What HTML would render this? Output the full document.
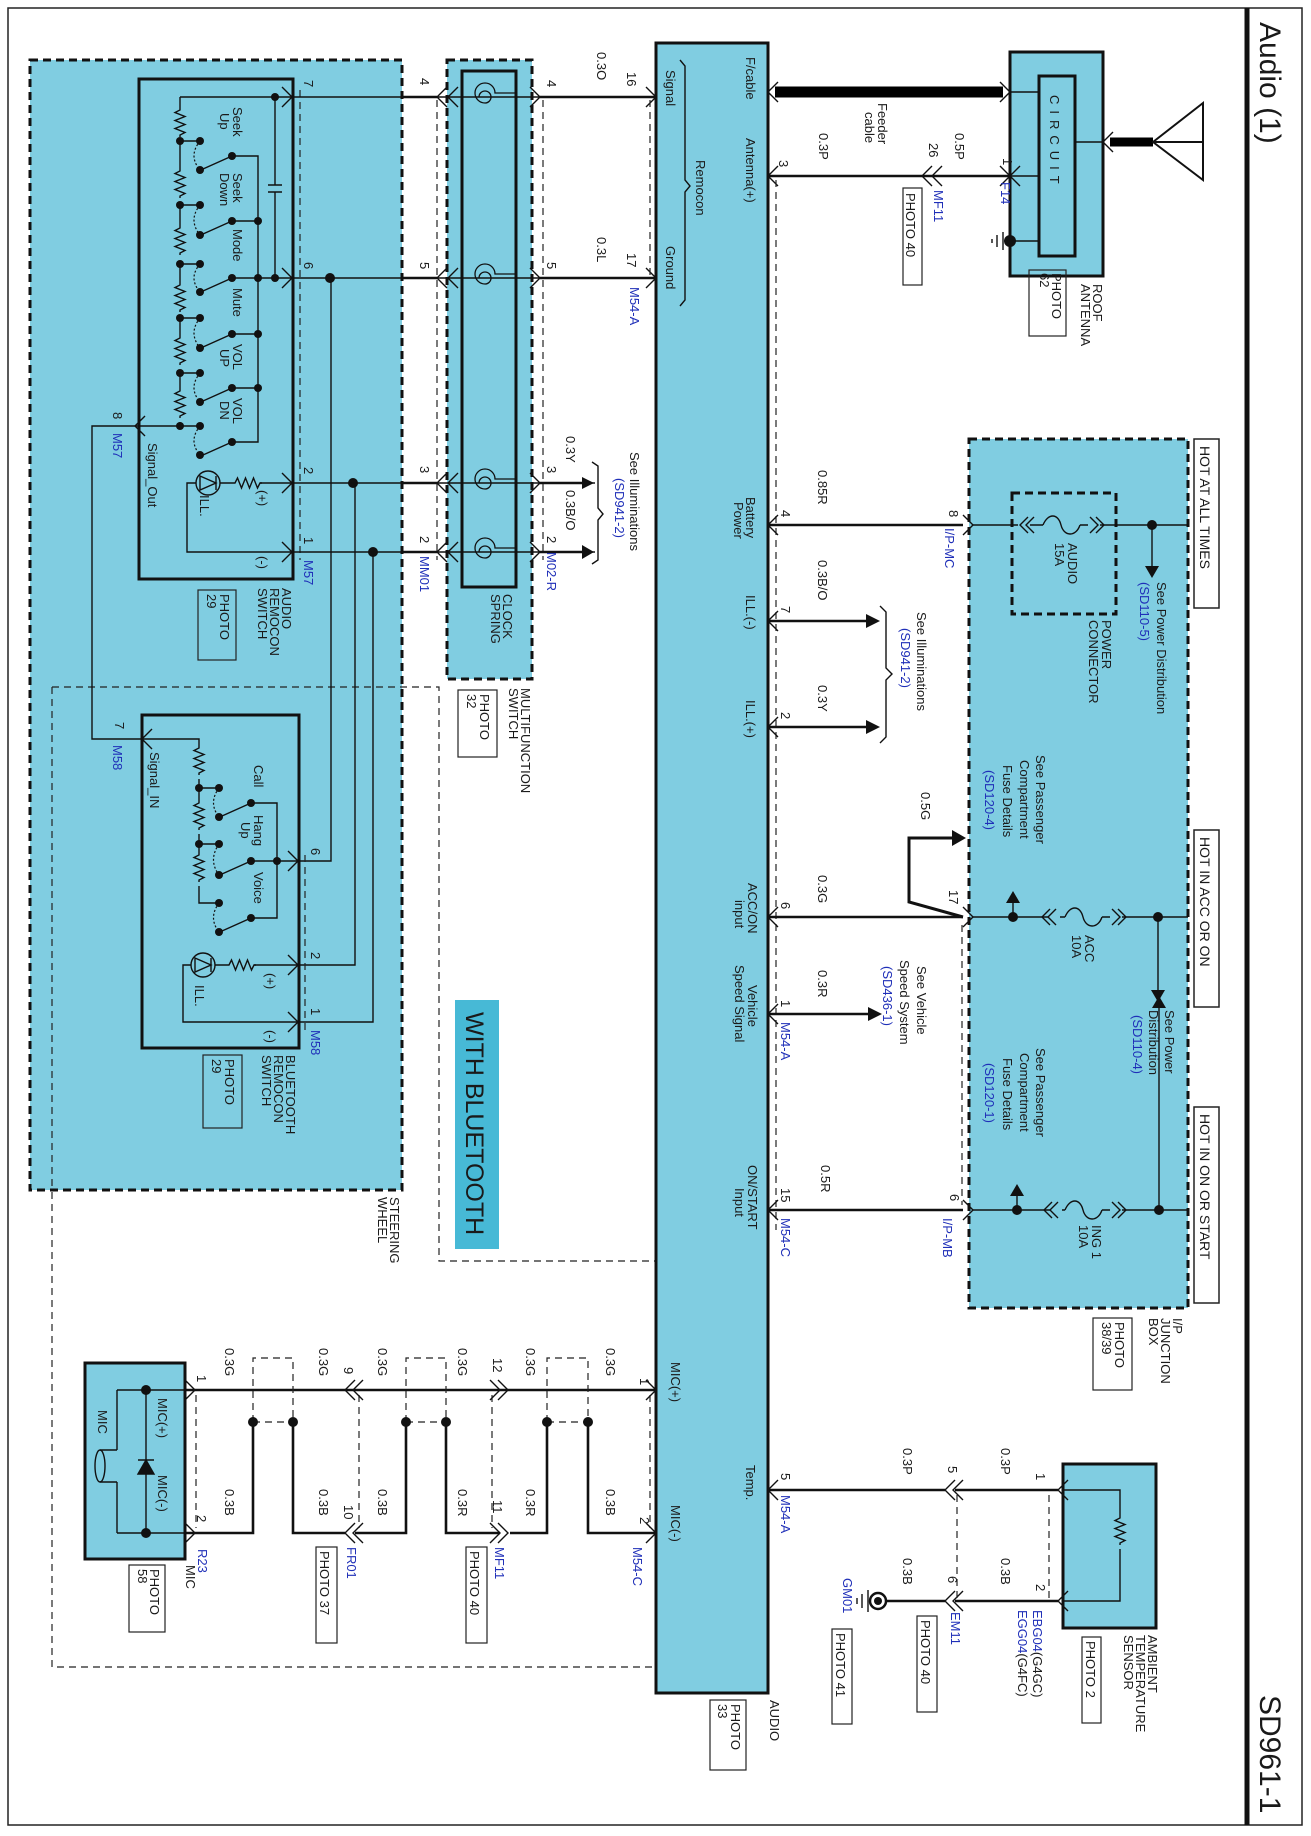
<!DOCTYPE html>
<html><head><meta charset="utf-8">
<style>
html,body{margin:0;padding:0;background:#fff;}
svg{display:block;}
text{font-family:"Liberation Sans",sans-serif;font-size:13px;fill:#1a1a1a;}
.b{fill:#1f2fb8;}
.w{stroke:#111;stroke-width:2.6;fill:none;}
.t{stroke:#111;stroke-width:1.4;fill:none;}
.d{stroke:#222;stroke-width:1.2;fill:none;stroke-dasharray:7,5;}
.D{stroke:#111;stroke-width:3;stroke-dasharray:8,5;}
.bl{fill:#80cde1;}
</style></head><body>
<svg width="1311" height="1836" viewBox="0 0 1311 1836" xmlns="http://www.w3.org/2000/svg">
<defs>
<path id="rz" d="M0,0 v3 l-5,2.5 l10,4 l-10,4 l10,4 l-10,4 l10,4 l-5,2.5 v2" fill="none" stroke="#111" stroke-width="1.4"/>
<path id="rh" d="M0,0 h3 l2.5,-5 l4,10 l4,-10 l4,10 l4,-10 l4,10 l2.5,-5 h2" fill="none" stroke="#111" stroke-width="1.4"/>
</defs>
<!-- frame -->
<rect x="8" y="8" width="1294" height="1817" fill="none" stroke="#222" stroke-width="1.5"/>
<line x1="1247" y1="8" x2="1247" y2="1825" stroke="#111" stroke-width="5"/>
<text x="1260" y="22" transform="rotate(90 1260 22)" style="font-size:30px">Audio (1)</text>
<text x="1260" y="1695" transform="rotate(90 1260 1695)" style="font-size:30px">SD961-1</text>

<!-- big thin dashed region -->
<path d="M52,687 H439 V1261 H696 V1667 H52 Z" class="d"/>

<!-- steering wheel -->
<rect x="30" y="60" width="372" height="1130" class="bl D"/>
<path d="M52,687 H402" class="d"/>
<path d="M52,687 V1190" class="d"/>
<!-- clock spring -->
<rect x="447" y="60" width="85" height="619" class="bl D"/>
<rect x="462" y="71" width="54" height="516" fill="none" stroke="#111" stroke-width="3"/>
<!-- audio unit -->
<rect x="656" y="43" width="112" height="1650" class="bl" stroke="#111" stroke-width="3"/>
<!-- roof antenna -->
<rect x="1010" y="52" width="93" height="224" class="bl" stroke="#111" stroke-width="3"/>
<rect x="1039" y="76" width="36" height="180" class="bl" stroke="#111" stroke-width="3"/>
<!-- IP junction -->
<rect x="969" y="439" width="219" height="869" class="bl D"/>
<rect x="1012" y="493" width="104" height="121" fill="none" class="D"/>
<!-- ambient -->
<rect x="1063" y="1464" width="93" height="164" class="bl" stroke="#111" stroke-width="3"/>
<!-- mic -->
<rect x="85" y="1363" width="100" height="196" class="bl" stroke="#111" stroke-width="3"/>
<!-- with bluetooth -->
<rect x="455" y="1000" width="44" height="249" fill="#47b9d6"/>
<text x="466" y="1012" transform="rotate(90 466 1012)" style="font-size:25px">WITH BLUETOOTH</text>

<!-- HOT boxes -->
<rect x="1194" y="439" width="25" height="169" fill="#fff" stroke="#222" stroke-width="1.5"/>
<text x="1200" y="446" transform="rotate(90 1200 446)" style="font-size:14px">HOT AT ALL TIMES</text>
<rect x="1194" y="830" width="25" height="177" fill="#fff" stroke="#222" stroke-width="1.5"/>
<text x="1200" y="837" transform="rotate(90 1200 837)" style="font-size:14px">HOT IN ACC OR ON</text>
<rect x="1194" y="1107" width="25" height="196" fill="#fff" stroke="#222" stroke-width="1.5"/>
<text x="1200" y="1114" transform="rotate(90 1200 1114)" style="font-size:14px">HOT IN ON OR START</text>

<!-- ===== Audio remocon switch ===== -->
<rect x="139" y="79" width="154" height="500" fill="none" stroke="#111" stroke-width="3"/>
<path d="M180,97 H293 M180,97 V107" class="t"/>
<use href="#rz" x="180" y="107"/>
<use href="#rz" x="180" y="168"/>
<use href="#rz" x="180" y="225"/>
<use href="#rz" x="180" y="282"/>
<use href="#rz" x="180" y="335"/>
<use href="#rz" x="180" y="388"/>
<path d="M180,141 V168 M180,205 V225 M180,264 V282 M180,318 V335 M180,373 V388 M180,422 V426" class="t"/>
<g class="t">
<path d="M180,141 H200 M180,205 H200 M180,264 H200 M180,318 H200 M180,373 H200 M180,426 H200"/>
<path d="M232,156 H258 V442 H232 M232,221 H258 M232,334 H258 M232,388 H258 M232,278 H293"/>
<path d="M232,156 L203,169 M232,221 L203,234 M232,278 L203,291 M232,334 L203,347 M232,388 L203,401 M232,442 L203,455"/>
<path d="M275,97 V185 M268,185 H282 M268,192 H282 M275,192 V278"/>
</g>
<g stroke="#111" stroke-width="1.2" fill="none" stroke-dasharray="2,2">
<path d="M200,141 Q188,156 200,170 M200,205 Q188,220 200,235 M200,264 Q188,278 200,292 M200,318 Q188,333 200,348 M200,373 Q188,388 200,402 M200,426 Q188,441 200,455"/>
</g>
<g fill="#111">
<circle cx="180" cy="141" r="4"/><circle cx="200" cy="141" r="4"/><circle cx="200" cy="170" r="4"/><circle cx="232" cy="156" r="4"/>
<circle cx="180" cy="205" r="4"/><circle cx="200" cy="205" r="4"/><circle cx="200" cy="235" r="4"/><circle cx="232" cy="221" r="4"/><circle cx="258" cy="221" r="4"/>
<circle cx="180" cy="264" r="4"/><circle cx="200" cy="264" r="4"/><circle cx="200" cy="292" r="4"/><circle cx="232" cy="278" r="4"/><circle cx="258" cy="278" r="4"/>
<circle cx="180" cy="318" r="4"/><circle cx="200" cy="318" r="4"/><circle cx="200" cy="348" r="4"/><circle cx="232" cy="334" r="4"/><circle cx="258" cy="334" r="4"/>
<circle cx="180" cy="373" r="4"/><circle cx="200" cy="373" r="4"/><circle cx="200" cy="402" r="4"/><circle cx="232" cy="388" r="4"/><circle cx="258" cy="388" r="4"/>
<circle cx="180" cy="426" r="4"/><circle cx="200" cy="426" r="4"/><circle cx="200" cy="455" r="4"/><circle cx="232" cy="442" r="4"/>
<circle cx="275" cy="97" r="4"/><circle cx="275" cy="278" r="4"/>
<circle cx="330" cy="278" r="5"/><circle cx="353" cy="483" r="5"/><circle cx="373" cy="552" r="5"/>
</g>
<!-- LED -->
<circle cx="208" cy="483" r="12" fill="none" stroke="#111" stroke-width="1.4"/>
<path d="M200,476 L216,483 L200,490 Z M216,476 V490" class="t"/>
<path d="M196,483 H187 V552 H293 M220,483 H232" class="t"/>
<use href="#rh" x="232" y="483"/>
<path d="M260,483 H293" class="t"/>
<path d="M180,426 H135 M135,426 H92 V739 H142" class="t"/>
<text x="233" y="107" transform="rotate(90 233 107)">Seek</text><text x="220" y="113" transform="rotate(90 220 113)">Up</text>
<text x="233" y="173" transform="rotate(90 233 173)">Seek</text><text x="220" y="173" transform="rotate(90 220 173)">Down</text>
<text x="233" y="229" transform="rotate(90 233 229)">Mode</text>
<text x="233" y="288" transform="rotate(90 233 288)">Mute</text>
<text x="233" y="344" transform="rotate(90 233 344)">VOL</text><text x="220" y="349" transform="rotate(90 220 349)">UP</text>
<text x="233" y="398" transform="rotate(90 233 398)">VOL</text><text x="220" y="401" transform="rotate(90 220 401)">DN</text>
<text x="148" y="443" transform="rotate(90 148 443)">Signal_Out</text>
<text x="258" y="490" transform="rotate(90 258 490)">(+)</text>
<text x="258" y="556" transform="rotate(90 258 556)">(-)</text>
<text x="200" y="495" transform="rotate(90 200 495)">ILL.</text>
<text x="113" y="412" transform="rotate(90 113 412)">8</text>
<text x="113" y="433" transform="rotate(90 113 433)" class="b">M57</text>
<text x="304" y="80" transform="rotate(90 304 80)">7</text>
<text x="304" y="262" transform="rotate(90 304 262)">6</text>
<text x="304" y="467" transform="rotate(90 304 467)">2</text>
<text x="304" y="537" transform="rotate(90 304 537)">1</text>
<text x="304" y="560" transform="rotate(90 304 560)" class="b">M57</text>
<text x="282" y="588" transform="rotate(90 282 588)">AUDIO</text>
<text x="270" y="588" transform="rotate(90 270 588)">REMOCON</text>
<text x="258" y="588" transform="rotate(90 258 588)">SWITCH</text>
<rect x="198" y="590" width="38" height="70" fill="none" stroke="#222" stroke-width="1.2"/>
<text x="220" y="594" transform="rotate(90 220 594)">PHOTO</text>
<text x="207" y="594" transform="rotate(90 207 594)">29</text>

<!-- ===== Bluetooth remocon ===== -->
<rect x="142" y="715" width="157" height="333" fill="none" stroke="#111" stroke-width="3"/>
<path d="M142,739 H199 V745" class="t"/>
<use href="#rz" x="199" y="745"/>
<use href="#rz" x="199" y="800"/>
<use href="#rz" x="199" y="852"/>
<path d="M199,779 V800 M199,834 V852 M199,886 V903 H219 M199,788 H219 M199,844 H219" class="t"/>
<path d="M251,803 H277 V918 H251 M251,861 H299 M251,803 L222,816 M251,861 L222,874 M251,918 L222,931" class="t"/>
<g stroke="#111" stroke-width="1.2" fill="none" stroke-dasharray="2,2"><path d="M219,788 Q208,803 219,817 M219,844 Q208,860 219,875 M219,903 Q208,918 219,932"/></g>
<g fill="#111">
<circle cx="199" cy="788" r="4"/><circle cx="219" cy="788" r="4"/><circle cx="219" cy="817" r="4"/><circle cx="251" cy="803" r="4"/>
<circle cx="199" cy="844" r="4"/><circle cx="219" cy="844" r="4"/><circle cx="219" cy="875" r="4"/><circle cx="251" cy="861" r="4"/><circle cx="277" cy="861" r="4"/>
<circle cx="219" cy="903" r="4"/><circle cx="219" cy="932" r="4"/><circle cx="251" cy="918" r="4"/>
</g>
<circle cx="203" cy="965" r="12" fill="none" stroke="#111" stroke-width="1.4"/>
<path d="M195,958 L211,965 L195,972 Z M211,958 V972" class="t"/>
<path d="M191,965 H183 V1022 H299 M215,965 H226" class="t"/>
<use href="#rh" x="226" y="965"/>
<path d="M254,965 H299" class="t"/>
<text x="254" y="765" transform="rotate(90 254 765)">Call</text>
<text x="254" y="815" transform="rotate(90 254 815)">Hang</text><text x="241" y="822" transform="rotate(90 241 822)">Up</text>
<text x="254" y="872" transform="rotate(90 254 872)">Voice</text>
<text x="150" y="752" transform="rotate(90 150 752)">Signal_IN</text>
<text x="266" y="973" transform="rotate(90 266 973)">(+)</text>
<text x="266" y="1030" transform="rotate(90 266 1030)">(-)</text>
<text x="195" y="985" transform="rotate(90 195 985)">ILL.</text>
<text x="115" y="722" transform="rotate(90 115 722)">7</text>
<text x="113" y="745" transform="rotate(90 113 745)" class="b">M58</text>
<text x="311" y="848" transform="rotate(90 311 848)">6</text>
<text x="311" y="952" transform="rotate(90 311 952)">2</text>
<text x="311" y="1008" transform="rotate(90 311 1008)">1</text>
<text x="311" y="1030" transform="rotate(90 311 1030)" class="b">M58</text>
<text x="286" y="1055" transform="rotate(90 286 1055)">BLUETOOTH</text>
<text x="274" y="1055" transform="rotate(90 274 1055)">REMOCON</text>
<text x="262" y="1055" transform="rotate(90 262 1055)">SWITCH</text>
<rect x="203" y="1055" width="39" height="73" fill="none" stroke="#222" stroke-width="1.2"/>
<text x="225" y="1059" transform="rotate(90 225 1059)">PHOTO</text>
<text x="212" y="1059" transform="rotate(90 212 1059)">29</text>
<text x="390" y="1197" transform="rotate(90 390 1197)">STEERING</text>
<text x="378" y="1197" transform="rotate(90 378 1197)">WHEEL</text>

<!-- vertical interconnects in wheel -->
<path d="M331,278 V861 H299 M355,483 V965 H299 M373,552 V1022 H299" class="t"/>

<!-- connector chevrons (audio remocon / BT) -->
<g class="t">
<path d="M282,87 L292,97 L282,107 M282,268 L292,278 L282,288 M282,473 L292,483 L282,493 M282,542 L292,552 L282,562"/>
<path d="M288,851 L298,861 L288,871 M288,955 L298,965 L288,975 M288,1012 L298,1022 L288,1032"/>
<path d="M145,416 L135,426 L145,436 M152,729 L142,739 L152,749"/>
</g>
<path d="M300,90 V560 M305,855 V1030" class="d"/>

<!-- wires through clock spring -->
<path d="M293,97 H656 M293,278 H656 M293,483 H595 M293,552 H595" class="t"/>
<path d="M402,97 H437 M402,278 H437 M402,483 H437 M402,552 H437 M540,97 H656 M540,278 H656 M540,483 H590 M540,552 H590" class="w"/>
<g class="t">
<path d="M447,87 L437,97 L447,107 M447,268 L437,278 L447,288 M447,473 L437,483 L447,493 M447,542 L437,552 L447,562"/>
<path d="M458,87 L448,97 L458,107 M458,268 L448,278 L458,288 M458,473 L448,483 L458,493 M458,542 L448,552 L458,562"/>
<path d="M530,87 L540,97 L530,107 M530,268 L540,278 L530,288 M530,473 L540,483 L530,493 M530,542 L540,552 L530,562"/>
<path d="M646,87 L656,97 L646,107 M646,268 L656,278 L646,288"/>
</g>
<g fill="none" stroke="#111" stroke-width="1.3">
<path d="M485,97 m-6,0 a6,6 0 1 1 6,6 a10,10 0 1 1 10,-10 h21"/>
<path d="M485,278 m-6,0 a6,6 0 1 1 6,6 a10,10 0 1 1 10,-10 h21"/>
<path d="M485,483 m-6,0 a6,6 0 1 1 6,6 a10,10 0 1 1 10,-10 h21"/>
<path d="M485,552 m-6,0 a6,6 0 1 1 6,6 a10,10 0 1 1 10,-10 h21"/>
</g>
<path d="M437,100 V560 M543,100 V560 M650,100 V278" class="d"/>
<text x="420" y="78" transform="rotate(90 420 78)">4</text>
<text x="420" y="262" transform="rotate(90 420 262)">5</text>
<text x="420" y="466" transform="rotate(90 420 466)">3</text>
<text x="420" y="536" transform="rotate(90 420 536)">2</text>
<text x="420" y="556" transform="rotate(90 420 556)" class="b">MM01</text>
<text x="547" y="80" transform="rotate(90 547 80)">4</text>
<text x="547" y="262" transform="rotate(90 547 262)">5</text>
<text x="547" y="466" transform="rotate(90 547 466)">3</text>
<text x="547" y="536" transform="rotate(90 547 536)">2</text>
<text x="547" y="552" transform="rotate(90 547 552)" class="b">M02-R</text>
<text x="503" y="594" transform="rotate(90 503 594)">CLOCK</text>
<text x="491" y="594" transform="rotate(90 491 594)">SPRING</text>
<text x="521" y="688" transform="rotate(90 521 688)">MULTIFUNCTION</text>
<text x="509" y="688" transform="rotate(90 509 688)">SWITCH</text>
<rect x="458" y="690" width="39" height="67" fill="none" stroke="#222" stroke-width="1.2"/>
<text x="480" y="694" transform="rotate(90 480 694)">PHOTO</text>
<text x="467" y="694" transform="rotate(90 467 694)">32</text>
<!-- illumination arrows left -->
<path d="M582,477 L594,483 L582,489 Z M582,545 L594,552 L582,559 Z" fill="#111"/>
<path d="M592,462 L598,466 V508 L603,514 L598,520 V560 L592,564" class="t"/>
<text x="566" y="436" transform="rotate(90 566 436)">0.3Y</text>
<text x="566" y="490" transform="rotate(90 566 490)">0.3B/O</text>
<text x="630" y="452" transform="rotate(90 630 452)">See Illuminations</text>
<text x="615" y="478" transform="rotate(90 615 478)" class="b">(SD941-2)</text>
<text x="597" y="52" transform="rotate(90 597 52)">0.3O</text>
<text x="597" y="237" transform="rotate(90 597 237)">0.3L</text>
<text x="627" y="72" transform="rotate(90 627 72)">16</text>
<text x="627" y="253" transform="rotate(90 627 253)">17</text>
<text x="630" y="287" transform="rotate(90 630 287)" class="b">M54-A</text>

<!-- audio internal labels -->
<text x="746" y="57" transform="rotate(90 746 57)">F/cable</text>
<text x="746" y="138" transform="rotate(90 746 138)">Antenna(+)</text>
<text x="666" y="70" transform="rotate(90 666 70)">Signal</text>
<text x="696" y="160" transform="rotate(90 696 160)">Remocon</text>
<text x="666" y="246" transform="rotate(90 666 246)">Ground</text>
<path d="M680,60 L685,66 V180 L690,186 L685,192 V300 L680,306" class="t"/>
<text x="746" y="497" transform="rotate(90 746 497)">Battery</text>
<text x="734" y="502" transform="rotate(90 734 502)">Power</text>
<text x="746" y="595" transform="rotate(90 746 595)">ILL.(-)</text>
<text x="746" y="700" transform="rotate(90 746 700)">ILL.(+)</text>
<text x="748" y="883" transform="rotate(90 748 883)">ACC/ON</text>
<text x="735" y="900" transform="rotate(90 735 900)">input</text>
<text x="748" y="985" transform="rotate(90 748 985)">Vehicle</text>
<text x="735" y="965" transform="rotate(90 735 965)">Speed Signal</text>
<text x="748" y="1165" transform="rotate(90 748 1165)">ON/START</text>
<text x="735" y="1188" transform="rotate(90 735 1188)">Input</text>
<text x="671" y="1362" transform="rotate(90 671 1362)">MIC(+)</text>
<text x="746" y="1465" transform="rotate(90 746 1465)">Temp.</text>
<text x="671" y="1505" transform="rotate(90 671 1505)">MIC(-)</text>
<text x="770" y="1700" transform="rotate(90 770 1700)">AUDIO</text>
<rect x="710" y="1700" width="36" height="70" fill="none" stroke="#222" stroke-width="1.2"/>
<text x="731" y="1704" transform="rotate(90 731 1704)">PHOTO</text>
<text x="718" y="1704" transform="rotate(90 718 1704)">33</text>

<!-- antenna -->
<path d="M775,92 H1003" stroke="#000" stroke-width="11"/>
<path d="M778,82 L768,92 L778,102 M1000,82 L1010,92 L1000,102" class="t"/>
<path d="M1010,92 H1039 M1075,142 H1103 M1010,176 H1039 M1010,241 H1039" class="t"/>
<path d="M1110,142 H1153" stroke="#000" stroke-width="9"/>
<path d="M1113,132 L1103,142 L1113,152" class="t"/>
<path d="M1153,142 L1203,103 V180 Z M1153,142 H1203" fill="none" stroke="#111" stroke-width="2"/>
<circle cx="1010" cy="241" r="6" fill="#111"/>
<path d="M1003,232 V250 M997,235 V247 M992,239 V243" class="t" stroke-width="2"/>
<text x="1050" y="95" transform="rotate(90 1050 95)" style="letter-spacing:6px">CIRCUIT</text>
<path d="M768,176 H1010" class="w"/>
<path d="M778,166 L768,176 L778,186 M1000,166 L1010,176 L1000,186 M1020,166 L1010,176 L1020,186 M932,166 L922,176 L932,186 M942,166 L932,176 L942,186" class="t"/>
<path d="M776,180 V1230 M962,925 V1205" class="d"/>
<text x="779" y="160" transform="rotate(90 779 160)">3</text>
<text x="819" y="133" transform="rotate(90 819 133)">0.3P</text>
<text x="878" y="103" transform="rotate(90 878 103)">Feeder</text>
<text x="865" y="112" transform="rotate(90 865 112)">cable</text>
<text x="955" y="133" transform="rotate(90 955 133)">0.5P</text>
<text x="929" y="143" transform="rotate(90 929 143)">26</text>
<text x="934" y="190" transform="rotate(90 934 190)" class="b">MF11</text>
<rect x="903" y="188" width="19" height="97" fill="none" stroke="#222" stroke-width="1.2"/>
<text x="906" y="193" transform="rotate(90 906 193)">PHOTO 40</text>
<text x="1003" y="158" transform="rotate(90 1003 158)">1</text>
<text x="1001" y="182" transform="rotate(90 1001 182)" class="b">F14</text>
<text x="1093" y="284" transform="rotate(90 1093 284)">ROOF</text>
<text x="1081" y="284" transform="rotate(90 1081 284)">ANTENNA</text>
<rect x="1029" y="270" width="37" height="66" fill="none" stroke="#222" stroke-width="1.2"/>
<text x="1052" y="273" transform="rotate(90 1052 273)">PHOTO</text>
<text x="1040" y="273" transform="rotate(90 1040 273)">62</text>

<!-- battery / ill / acc / vehicle / onstart wires -->
<path d="M768,525 H963 M768,621 H868 M768,727 H868 M768,917 H963 M768,1014 H870 M768,1210 H963 M768,1490 H945 M955,1490 H1058 M955,1601 H1058 M945,1601 H886" class="w"/>
<path d="M866,614 L880,621 L866,628 Z M866,720 L880,727 L866,734 Z M868,1007 L882,1014 L868,1021 Z" fill="#111"/>
<path d="M880,606 L886,612 V668 L892,674 L886,680 V737 L880,743" class="t"/>
<text x="917" y="612" transform="rotate(90 917 612)">See Illuminations</text>
<text x="901" y="628" transform="rotate(90 901 628)" class="b">(SD941-2)</text>
<g class="t">
<path d="M778,515 L768,525 L778,535 M778,611 L768,621 L778,631 M778,717 L768,727 L778,737 M778,907 L768,917 L778,927 M778,1004 L768,1014 L778,1024 M778,1200 L768,1210 L778,1220 M778,1480 L768,1490 L778,1500"/>
<path d="M963,515 L973,525 L963,535 M963,907 L973,917 L963,927 M963,1200 L973,1210 L963,1220"/>
<path d="M955,1480 L945,1490 L955,1500 M963,1480 L953,1490 L963,1500 M955,1591 L945,1601 L955,1611 M963,1591 L953,1601 L963,1611 M1068,1480 L1058,1490 L1068,1500 M1068,1591 L1058,1601 L1068,1611"/>
</g>
<path d="M963,917 L909,902 V838 H955" fill="none" stroke="#111" stroke-width="3"/>
<path d="M952,830 L966,838 L952,846 Z" fill="#111"/>
<text x="781" y="510" transform="rotate(90 781 510)">4</text>
<text x="781" y="606" transform="rotate(90 781 606)">7</text>
<text x="781" y="712" transform="rotate(90 781 712)">2</text>
<text x="781" y="902" transform="rotate(90 781 902)">6</text>
<text x="781" y="1000" transform="rotate(90 781 1000)">1</text>
<text x="781" y="1022" transform="rotate(90 781 1022)" class="b">M54-A</text>
<text x="781" y="1188" transform="rotate(90 781 1188)">15</text>
<text x="781" y="1218" transform="rotate(90 781 1218)" class="b">M54-C</text>
<text x="781" y="1473" transform="rotate(90 781 1473)">5</text>
<text x="781" y="1495" transform="rotate(90 781 1495)" class="b">M54-A</text>
<text x="818" y="470" transform="rotate(90 818 470)">0.85R</text>
<text x="818" y="560" transform="rotate(90 818 560)">0.3B/O</text>
<text x="818" y="685" transform="rotate(90 818 685)">0.3Y</text>
<text x="818" y="875" transform="rotate(90 818 875)">0.3G</text>
<text x="818" y="970" transform="rotate(90 818 970)">0.3R</text>
<text x="821" y="1165" transform="rotate(90 821 1165)">0.5R</text>
<text x="921" y="792" transform="rotate(90 921 792)">0.5G</text>
<text x="917" y="966" transform="rotate(90 917 966)">See Vehicle</text>
<text x="900" y="960" transform="rotate(90 900 960)">Speed System</text>
<text x="883" y="966" transform="rotate(90 883 966)" class="b">(SD436-1)</text>
<text x="949" y="510" transform="rotate(90 949 510)">8</text>
<text x="945" y="528" transform="rotate(90 945 528)" class="b">I/P-MC</text>
<text x="949" y="890" transform="rotate(90 949 890)">17</text>
<text x="950" y="1194" transform="rotate(90 950 1194)">6</text>
<text x="943" y="1218" transform="rotate(90 943 1218)" class="b">I/P-MB</text>

<!-- IP junction internals -->
<g class="t">
<path d="M973,525 H1018 M1030,525 H1043 M1080,525 H1088 M1100,525 H1188"/>
<path d="M1043,525 c5,-12 15,-12 18,0 c3,12 15,12 19,0"/>
<path d="M1028,517 L1020,525 L1028,533 M1034,517 L1026,525 L1034,533 M1090,517 L1098,525 L1090,533 M1096,517 L1104,525 L1096,533"/>
<path d="M1152,525 V568"/>
<path d="M973,917 H1048 M1060,917 H1065 M1102,917 H1110 M1122,917 H1188 M1065,917 c5,-12 15,-12 18,0 c3,12 15,12 19,0"/>
<path d="M1050,909 L1042,917 L1050,925 M1056,909 L1048,917 L1056,925 M1112,909 L1120,917 L1112,925 M1118,909 L1126,917 L1118,925"/>
<path d="M1013,917 V900 M1158,917 V995"/>
<path d="M973,1210 H1050 M1062,1210 H1065 M1102,1210 H1110 M1122,1210 H1188 M1065,1210 c5,-12 15,-12 18,0 c3,12 15,12 19,0"/>
<path d="M1052,1202 L1044,1210 L1052,1218 M1058,1202 L1050,1210 L1058,1218 M1112,1202 L1120,1210 L1112,1218 M1118,1202 L1126,1210 L1118,1218"/>
<path d="M1017,1210 V1192 M1159,1210 V1000"/>
</g>
<g fill="#111">
<circle cx="1152" cy="525" r="5"/><path d="M1145,566 L1152,578 L1159,566 Z"/>
<circle cx="1013" cy="917" r="5"/><path d="M1006,903 L1013,891 L1020,903 Z"/>
<circle cx="1158" cy="917" r="5"/><path d="M1151,990 L1158,1002 L1165,990 Z"/>
<circle cx="1017" cy="1210" r="5"/><path d="M1010,1196 L1017,1184 L1024,1196 Z"/>
<circle cx="1159" cy="1210" r="5"/><path d="M1152,1008 L1159,996 L1166,1008 Z"/>
</g>
<text x="1068" y="543" transform="rotate(90 1068 543)">AUDIO</text>
<text x="1055" y="543" transform="rotate(90 1055 543)">15A</text>
<text x="1157" y="582" transform="rotate(90 1157 582)">See Power Distribution</text>
<text x="1140" y="582" transform="rotate(90 1140 582)" class="b">(SD110-5)</text>
<text x="1102" y="620" transform="rotate(90 1102 620)">POWER</text>
<text x="1089" y="620" transform="rotate(90 1089 620)">CONNECTOR</text>
<text x="1036" y="755" transform="rotate(90 1036 755)">See Passenger</text>
<text x="1020" y="760" transform="rotate(90 1020 760)">Compartment</text>
<text x="1003" y="765" transform="rotate(90 1003 765)">Fuse Details</text>
<text x="985" y="770" transform="rotate(90 985 770)" class="b">(SD120-4)</text>
<text x="1085" y="935" transform="rotate(90 1085 935)">ACC</text>
<text x="1072" y="935" transform="rotate(90 1072 935)">10A</text>
<text x="1165" y="1010" transform="rotate(90 1165 1010)">See Power</text>
<text x="1149" y="1010" transform="rotate(90 1149 1010)">Distribution</text>
<text x="1133" y="1015" transform="rotate(90 1133 1015)" class="b">(SD110-4)</text>
<text x="1036" y="1048" transform="rotate(90 1036 1048)">See Passenger</text>
<text x="1020" y="1053" transform="rotate(90 1020 1053)">Compartment</text>
<text x="1003" y="1058" transform="rotate(90 1003 1058)">Fuse Details</text>
<text x="985" y="1063" transform="rotate(90 985 1063)" class="b">(SD120-1)</text>
<text x="1092" y="1225" transform="rotate(90 1092 1225)">ING 1</text>
<text x="1079" y="1225" transform="rotate(90 1079 1225)">10A</text>
<text x="1173" y="1318" transform="rotate(90 1173 1318)">I/P</text>
<text x="1161" y="1318" transform="rotate(90 1161 1318)">JUNCTION</text>
<text x="1149" y="1318" transform="rotate(90 1149 1318)">BOX</text>
<rect x="1093" y="1318" width="39" height="72" fill="none" stroke="#222" stroke-width="1.2"/>
<text x="1115" y="1322" transform="rotate(90 1115 1322)">PHOTO</text>
<text x="1102" y="1322" transform="rotate(90 1102 1322)">38/39</text>

<!-- ambient sensor -->
<path d="M1063,1490 H1120 V1515" class="t"/>
<use href="#rz" x="1120" y="1515"/>
<path d="M1120,1549 V1601 H1063" class="t"/>
<path d="M1049,1495 V1598 M957,1495 V1598" class="d"/>
<text x="1036" y="1473" transform="rotate(90 1036 1473)">1</text>
<text x="1036" y="1584" transform="rotate(90 1036 1584)">2</text>
<text x="1001" y="1448" transform="rotate(90 1001 1448)">0.3P</text>
<text x="1001" y="1558" transform="rotate(90 1001 1558)">0.3B</text>
<text x="903" y="1448" transform="rotate(90 903 1448)">0.3P</text>
<text x="903" y="1558" transform="rotate(90 903 1558)">0.3B</text>
<text x="948" y="1466" transform="rotate(90 948 1466)">5</text>
<text x="948" y="1576" transform="rotate(90 948 1576)">6</text>
<text x="951" y="1612" transform="rotate(90 951 1612)" class="b">EM11</text>
<rect x="917" y="1616" width="20" height="96" fill="none" stroke="#222" stroke-width="1.2"/>
<text x="921" y="1620" transform="rotate(90 921 1620)">PHOTO 40</text>
<text x="1033" y="1610" transform="rotate(90 1033 1610)"><tspan class="b">EBG04</tspan>(G4GC)</text>
<text x="1018" y="1610" transform="rotate(90 1018 1610)"><tspan class="b">EGG04</tspan>(G4FC)</text>
<text x="1148" y="1635" transform="rotate(90 1148 1635)">AMBIENT</text>
<text x="1136" y="1635" transform="rotate(90 1136 1635)">TEMPERATURE</text>
<text x="1124" y="1635" transform="rotate(90 1124 1635)">SENSOR</text>
<rect x="1082" y="1637" width="19" height="86" fill="none" stroke="#222" stroke-width="1.2"/>
<text x="1086" y="1641" transform="rotate(90 1086 1641)">PHOTO 2</text>
<circle cx="878" cy="1601" r="8" fill="none" stroke="#111" stroke-width="2.5"/>
<circle cx="878" cy="1601" r="4" fill="#111"/>
<path d="M868,1590 V1612 M862,1594 V1608 M857,1598 V1604" class="t" stroke-width="2"/>
<text x="843" y="1578" transform="rotate(90 843 1578)" class="b">GM01</text>
<rect x="832" y="1629" width="20" height="95" fill="none" stroke="#222" stroke-width="1.2"/>
<text x="836" y="1633" transform="rotate(90 836 1633)">PHOTO 41</text>

<!-- mic wires -->
<path d="M185,1390 H656 M185,1533 H253 V1422 M293,1422 V1533 H345 M355,1533 H406 V1422 M446,1422 V1533 H500 M510,1533 H547 V1422 M588,1422 V1533 H656" class="w"/>
<g class="d">
<path d="M253,1422 V1358 H293 V1422 M406,1422 V1358 H446 V1422 M547,1422 V1358 H588 V1422"/>
<path d="M253,1422 H293 M406,1422 H446 M547,1422 H588"/>
<path d="M196,1395 V1528 M359,1395 V1528 M492,1395 V1528 M650,1395 V1528"/>
</g>
<g fill="#111">
<circle cx="253" cy="1422" r="5"/><circle cx="293" cy="1422" r="5"/><circle cx="406" cy="1422" r="5"/><circle cx="446" cy="1422" r="5"/><circle cx="547" cy="1422" r="5"/><circle cx="588" cy="1422" r="5"/>
<circle cx="146" cy="1390" r="5"/><circle cx="146" cy="1533" r="5"/>
</g>
<g class="t">
<path d="M185,1380 L195,1390 L185,1400 M185,1523 L195,1533 L185,1543"/>
<path d="M355,1380 L345,1390 L355,1400 M363,1380 L353,1390 L363,1400 M355,1523 L345,1533 L355,1543 M363,1523 L353,1533 L363,1543"/>
<path d="M490,1380 L500,1390 L490,1400 M498,1380 L508,1390 L498,1400 M490,1523 L500,1533 L490,1543 M498,1523 L508,1533 L498,1543"/>
<path d="M646,1380 L656,1390 L646,1400 M646,1523 L656,1533 L646,1543"/>
<path d="M117,1390 H185 M117,1533 H185 M117,1390 V1450 M117,1482 V1533 M146,1390 V1533"/>
<path d="M117,1450 H100 M117,1482 H100"/>
<ellipse cx="100" cy="1466" rx="5" ry="16"/>
</g>
<path d="M138,1474 L146,1460 L154,1474 Z M138,1460 H154" fill="#111" stroke="#111" stroke-width="1.4"/>
<text x="98" y="1410" transform="rotate(90 98 1410)">MIC</text>
<text x="158" y="1398" transform="rotate(90 158 1398)">MIC(+)</text>
<text x="158" y="1475" transform="rotate(90 158 1475)">MIC(-)</text>
<text x="197" y="1375" transform="rotate(90 197 1375)">1</text>
<text x="197" y="1515" transform="rotate(90 197 1515)">2</text>
<text x="198" y="1549" transform="rotate(90 198 1549)" class="b">R23</text>
<text x="186" y="1565" transform="rotate(90 186 1565)">MIC</text>
<rect x="129" y="1565" width="36" height="67" fill="none" stroke="#222" stroke-width="1.2"/>
<text x="150" y="1569" transform="rotate(90 150 1569)">PHOTO</text>
<text x="138" y="1569" transform="rotate(90 138 1569)">58</text>
<text x="225" y="1348" transform="rotate(90 225 1348)">0.3G</text>
<text x="319" y="1348" transform="rotate(90 319 1348)">0.3G</text>
<text x="378" y="1348" transform="rotate(90 378 1348)">0.3G</text>
<text x="458" y="1348" transform="rotate(90 458 1348)">0.3G</text>
<text x="526" y="1348" transform="rotate(90 526 1348)">0.3G</text>
<text x="606" y="1348" transform="rotate(90 606 1348)">0.3G</text>
<text x="225" y="1489" transform="rotate(90 225 1489)">0.3B</text>
<text x="319" y="1489" transform="rotate(90 319 1489)">0.3B</text>
<text x="378" y="1489" transform="rotate(90 378 1489)">0.3B</text>
<text x="458" y="1489" transform="rotate(90 458 1489)">0.3R</text>
<text x="526" y="1489" transform="rotate(90 526 1489)">0.3R</text>
<text x="606" y="1489" transform="rotate(90 606 1489)">0.3B</text>
<text x="344" y="1367" transform="rotate(90 344 1367)">9</text>
<text x="344" y="1505" transform="rotate(90 344 1505)">10</text>
<text x="493" y="1358" transform="rotate(90 493 1358)">12</text>
<text x="493" y="1500" transform="rotate(90 493 1500)">11</text>
<text x="640" y="1378" transform="rotate(90 640 1378)">1</text>
<text x="640" y="1517" transform="rotate(90 640 1517)">2</text>
<text x="347" y="1547" transform="rotate(90 347 1547)" class="b">FR01</text>
<text x="495" y="1547" transform="rotate(90 495 1547)" class="b">MF11</text>
<text x="633" y="1547" transform="rotate(90 633 1547)" class="b">M54-C</text>
<rect x="316" y="1547" width="21" height="96" fill="none" stroke="#222" stroke-width="1.2"/>
<text x="320" y="1551" transform="rotate(90 320 1551)">PHOTO 37</text>
<rect x="466" y="1547" width="21" height="96" fill="none" stroke="#222" stroke-width="1.2"/>
<text x="470" y="1551" transform="rotate(90 470 1551)">PHOTO 40</text>
</svg>
</body></html>
